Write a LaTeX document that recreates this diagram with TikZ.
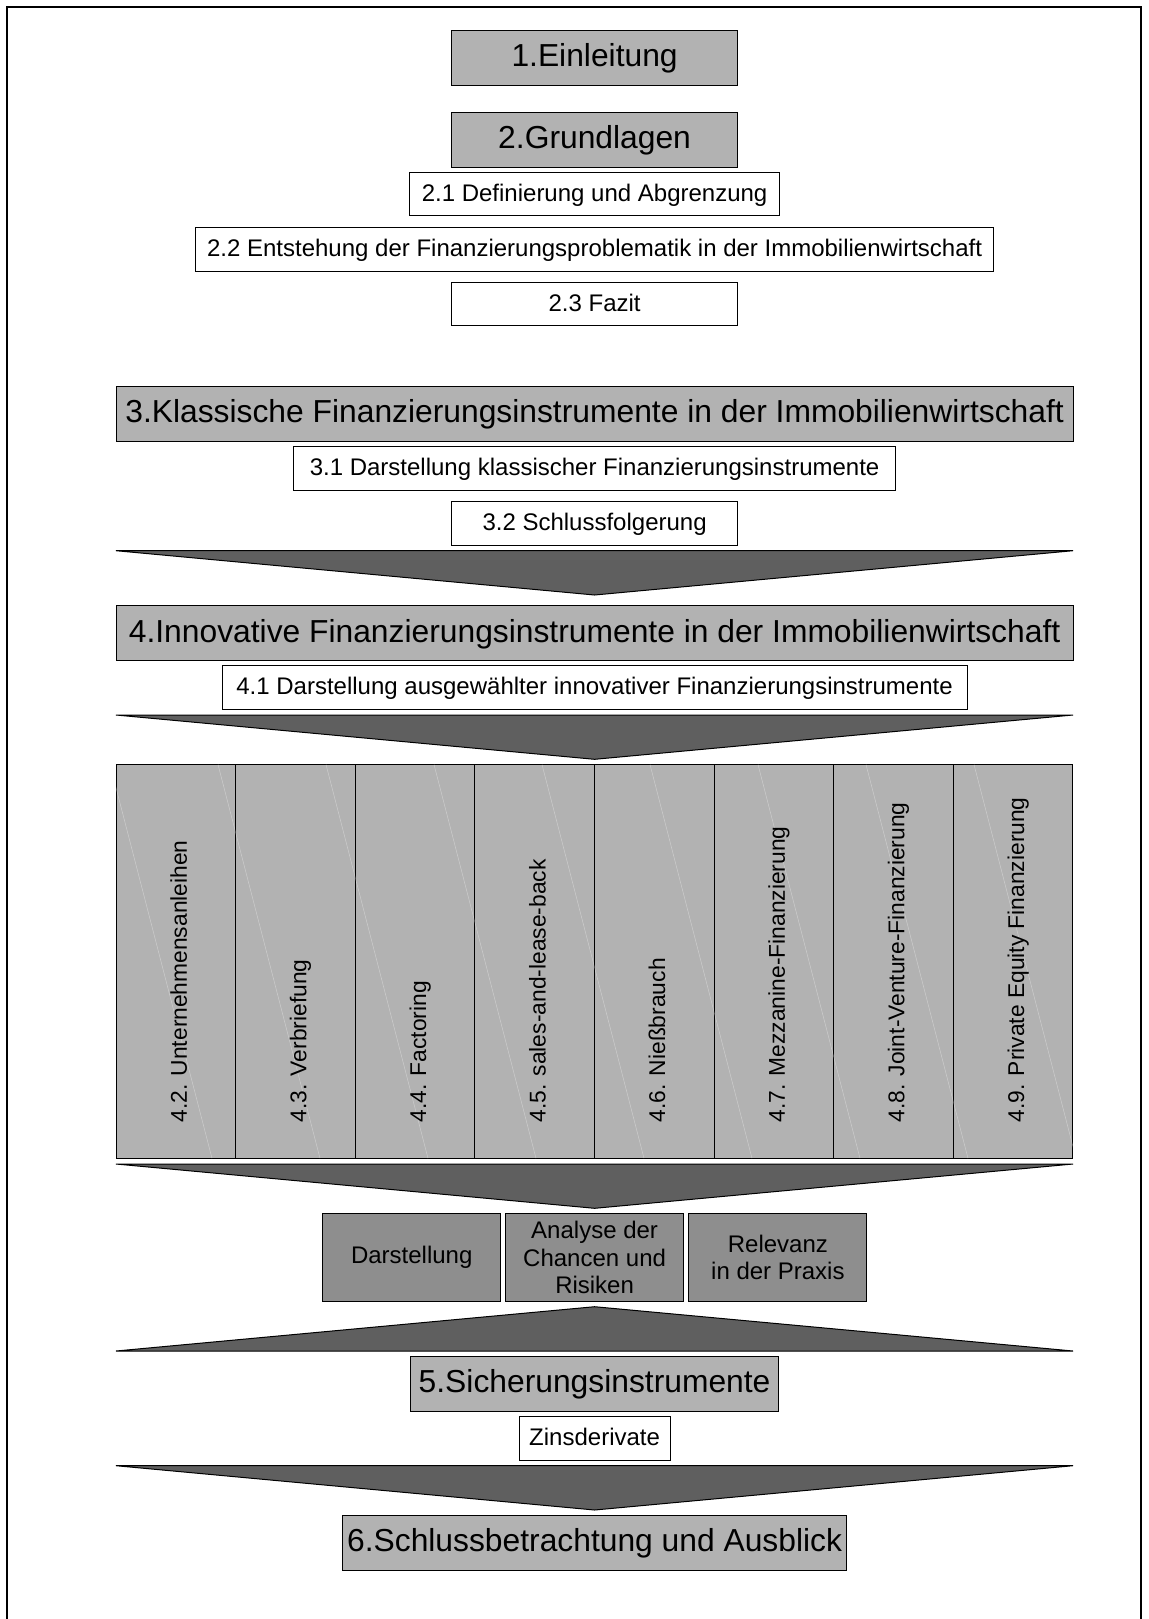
\documentclass[tikz,border=0pt]{standalone}
\usepackage{fontspec}
\setmainfont{Liberation Sans}
\usepackage{xcolor}
\usepackage{tikz}
\usetikzlibrary{positioning}

\definecolor{hgray}{HTML}{B2B2B2}
\definecolor{cgray}{HTML}{5F5F5F}
\definecolor{agray}{HTML}{8E8E8E}

\begin{document}
\begin{tikzpicture}[x=0.5pt,y=-0.5pt,
  hd/.style={draw,fill=hgray,line width=0.5pt,minimum height=27.5pt,inner sep=0pt,
    font=\fontsize{15.9}{19}\selectfont,text height=11.45pt,text depth=2.3pt},
  sub/.style={draw,fill=white,line width=0.5pt,minimum height=21.7pt,inner sep=0pt,
    font=\fontsize{12}{14}\selectfont,text height=8.64pt,text depth=1.4pt},
  asp/.style={draw,fill=agray,line width=0.5pt,minimum width=89pt,minimum height=44.2pt,
    inner sep=0pt,align=center,font=\fontsize{12}{13.85}\selectfont},
  col/.style={draw,fill=hgray,line width=0.5pt,minimum width=59.8pt,minimum height=196.9pt,inner sep=0pt},
  coltext/.style={rotate=90,anchor=base west,inner sep=0pt,font=\fontsize{11.4}{13}\selectfont},
  chev/.style={draw,fill=cgray,line width=0.5pt}]
\useasboundingbox (0,0) rectangle (1148,1619);
\draw[line width=1pt] (7.3,1619) -- (7.3,7.3) -- (1140.7,7.3) -- (1140.7,1619);

\node[hd,minimum width=143.15pt] (a) at (594.6,57.7) {1.Einleitung};
\node[hd,minimum width=143.15pt] (b) at (594.6,139.7) {2.Grundlagen};
\node[sub,minimum width=185.3pt] (c) at (594.6,194.2) {2.1 Definierung und Abgrenzung};
\node[sub,minimum width=399pt] (d) at (594.6,249.4) {2.2 Entstehung der Finanzierungsproblematik in der Immobilienwirtschaft};
\node[sub,minimum width=143.15pt] (e) at (594.6,304) {2.3 Fazit};

\node[hd,minimum width=478.5pt] (f) at (594.6,413.5) {3.Klassische Finanzierungsinstrumente in der Immobilienwirtschaft};
\node[sub,minimum width=301.3pt] (g) at (594.6,468.4) {3.1 Darstellung klassischer Finanzierungsinstrumente};
\node[sub,minimum width=143.15pt] (h) at (594.6,523.4) {3.2 Schlussfolgerung};

\node[hd,minimum width=478.5pt] (i) at (594.6,632.9) {4.Innovative Finanzierungsinstrumente in der Immobilienwirtschaft};
\node[sub,minimum width=372.5pt] (j) at (594.6,687.5) {4.1 Darstellung ausgewählter innovativer Finanzierungsinstrumente};

\foreach \t [count=\n] in {4.2. Unternehmensanleihen,4.3. Verbriefung,4.4. Factoring,
    4.5. sales-and-lease-back,4.6. Nießbrauch,4.7. Mezzanine-Finanzierung,
    4.8. Joint-Venture-Finanzierung,4.9. Private Equity Finanzierung}
  \node[col] (k\n) at (56.2+119.6*\n,961.4) {};
\begin{scope}
\clip (k1.north west) rectangle (k8.south east);
\foreach \x in {110,218,...,1082}
  \draw[white,line width=0.25pt,opacity=0.35] (\x,764.5) -- ++(102,393.8);
\end{scope}
\foreach \t [count=\n] in {4.2. Unternehmensanleihen,4.3. Verbriefung,4.4. Factoring,
    4.5. sales-and-lease-back,4.6. Nießbrauch,4.7. Mezzanine-Finanzierung,
    4.8. Joint-Venture-Finanzierung,4.9. Private Equity Finanzierung}
  \node[coltext] (t\n) at (67.2+119.6*\n,1123) {\t};

\node[asp] (l) at (411.7,1257.5) {Darstellung};
\node[asp] (m) at (594.6,1257.5) {Analyse der\\Chancen und\\Risiken};
\node[asp] (n) at (777.9,1257.5) {Relevanz\\in der Praxis};

\node[hd,minimum width=183.8pt] (o) at (594.6,1383.5) {5.Sicherungsinstrumente};
\node[sub,minimum width=75.5pt] (p) at (594.6,1438.3) {Zinsderivate};
\node[hd,minimum width=252pt] (q) at (594.6,1542.8) {6.Schlussbetrachtung und Ausblick};

\foreach \y in {550.7,715,1164,1465.7}
  \draw[chev] (116,\y) -- (1073,\y) -- (594.6,\y+44.3) -- cycle;
\draw[chev] (116,1351) -- (1073,1351) -- (594.6,1306.7) -- cycle;
\end{tikzpicture}
\end{document}
